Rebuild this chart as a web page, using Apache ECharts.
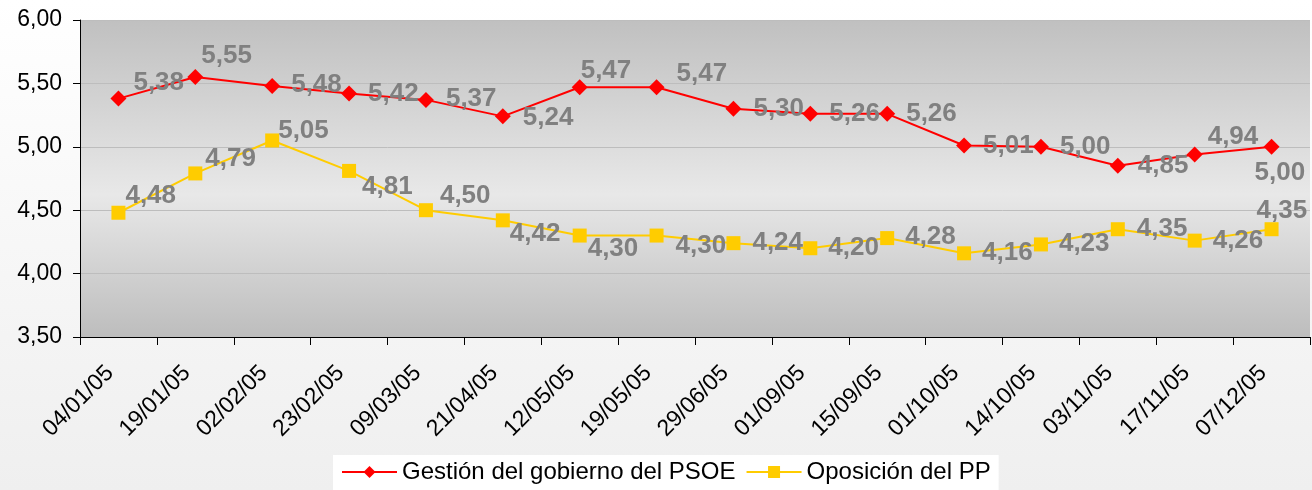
<!DOCTYPE html>
<html>
<head>
<meta charset="utf-8">
<script src="https://cdn.jsdelivr.net/npm/echarts@6/dist/echarts.min.js"></script>
<style>
html,body{margin:0;padding:0;background:#fff;}
#chart{width:1312px;height:490px;}
</style>
</head>
<body>
<div id="chart"></div>
<script>
// ---- data ----
var categories = ['04/01/05','19/01/05','02/02/05','23/02/05','09/03/05','21/04/05','12/05/05','19/05/05','29/06/05','01/09/05','15/09/05','01/10/05','14/10/05','03/11/05','17/11/05','07/12/05'];
var psoeName = 'Gestión del gobierno del PSOE';
var ppName = 'Oposición del PP';
var psoeValues = [5.38,5.55,5.48,5.42,5.37,5.24,5.47,5.47,5.30,5.26,5.26,5.01,5.00,4.85,4.94,5.00];
var ppValues = [4.48,4.79,5.05,4.81,4.50,4.42,4.30,4.30,4.24,4.20,4.28,4.16,4.23,4.35,4.26,4.35];
var yTicks = {min:3.5, max:6.0, interval:0.5};

// ---- label nudges (style only) ----
var psoeLabelNudge = [[-4,-16],[-13,-21],[0,-1],[0,0],[1,-1],[1,1],[-18,-16],[1,-13],[1,0],[0,0],[0,0],[0,0],[0,0],[1,0],[-6,-18],[-36,26]];
var ppLabelNudge = [[-11,-17],[-8,-15],[-12,-10],[-5,16],[-4,-14],[-11,13],[-10,13],[1,10],[1,0],[0,0],[0,-1],[0,0],[0,-1],[1,0],[0,0],[-33,-18]];

function fmt(v){ return v.toFixed(2).replace('.', ','); }
function buildData(values, nudges){
  return values.map(function(v,i){
    return {value:v, label:{offset:nudges[i]}};
  });
}

var chart = echarts.init(document.getElementById('chart'), null, {renderer:'canvas'});
var FONT = 'Liberation Sans, Arial, sans-serif';
var labelStyle = {
  show:true, position:'right', distance:11,
  color:'#808080', fontFamily:FONT,
  fontWeight:'bold', fontSize:26,
  formatter:function(p){ return fmt(p.value); }
};
chart.setOption({
  animation:false,
  backgroundColor:{type:'linear',x:0,y:0,x2:0,y2:1,colorStops:[{offset:0,color:'#ffffff'},{offset:1,color:'#efefef'}]},
  grid:{left:80,right:2,top:20,bottom:153,show:true,borderWidth:0,
    backgroundColor:{type:'linear',x:0,y:0,x2:0,y2:1,colorStops:[{offset:0,color:'#c0c0c0'},{offset:0.55,color:'#e8e8e8'},{offset:1,color:'#bdbdbd'}]}},
  legend:{
    left:333, top:455, backgroundColor:'#ffffff', padding:[5,8,10,8],
    itemWidth:55, itemHeight:15, itemGap:10,
    textStyle:{fontFamily:FONT, fontSize:24, color:'#000'},
    data:[psoeName, ppName]
  },
  xAxis:{
    type:'category', data:categories, boundaryGap:true,
    axisLine:{lineStyle:{color:'#000',width:1}},
    axisTick:{show:true,interval:0,length:8,lineStyle:{color:'#000'}},
    axisLabel:{interval:0,rotate:45,margin:24,fontSize:23,color:'#000',fontFamily:FONT,padding:[0,12,0,0]},
    splitLine:{show:false}
  },
  yAxis:{
    type:'value', min:yTicks.min, max:yTicks.max, interval:yTicks.interval,
    axisLine:{show:true,lineStyle:{color:'#000',width:1}},
    axisTick:{show:true,length:7,lineStyle:{color:'#000'}},
    axisLabel:{margin:18,fontSize:23,color:'#000',fontFamily:FONT,formatter:function(v){return fmt(v);}},
    splitLine:{show:true,lineStyle:{color:'#bdbdbd',width:1}}
  },
  series:[
    {name:psoeName,type:'line',data:buildData(psoeValues,psoeLabelNudge),
     symbol:'diamond',symbolSize:16,itemStyle:{color:'#ff0000'},
     lineStyle:{color:'#ff0000',width:2},label:labelStyle,z:3},
    {name:ppName,type:'line',data:buildData(ppValues,ppLabelNudge),
     symbol:'rect',symbolSize:14,itemStyle:{color:'#ffcc00'},
     lineStyle:{color:'#ffcc00',width:2},label:labelStyle,z:2}
  ]
});
</script>
</body>
</html>
